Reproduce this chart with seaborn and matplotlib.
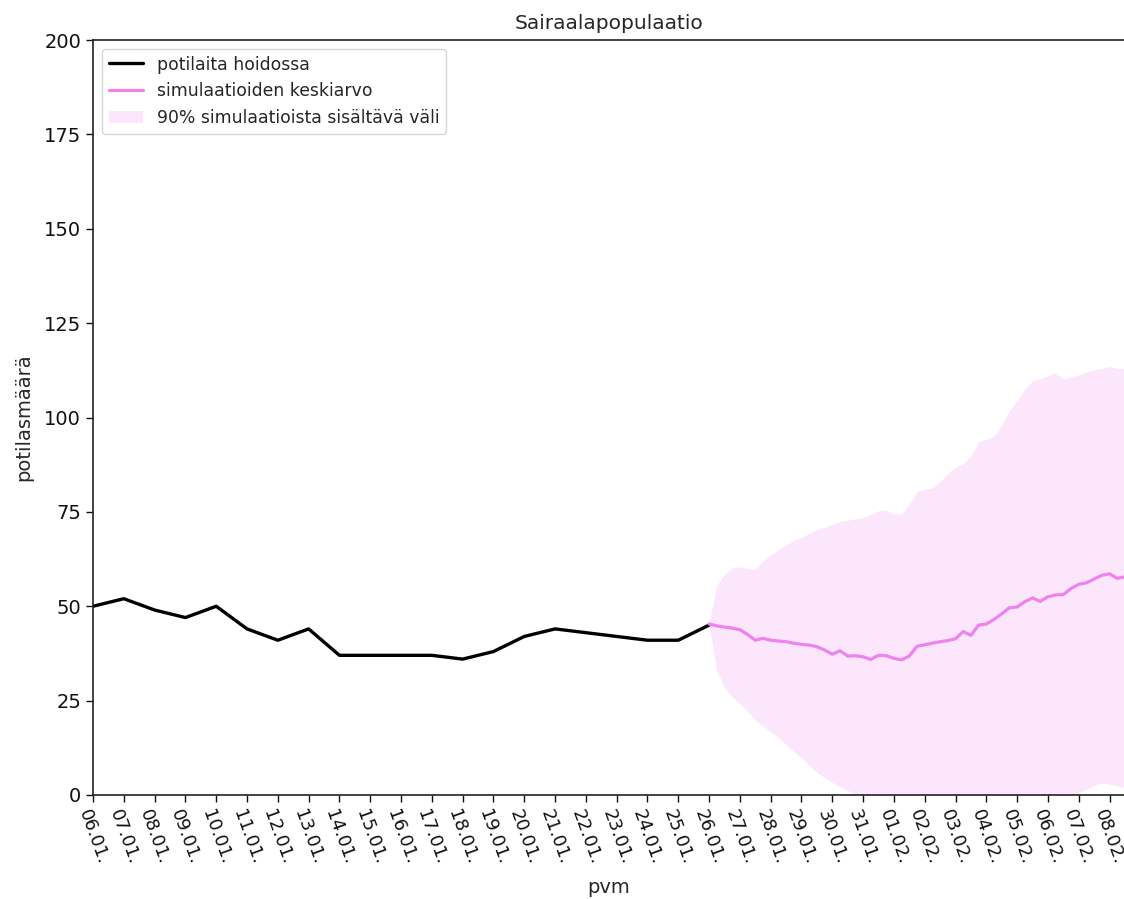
import numpy as np
import pandas as pd
import matplotlib
matplotlib.use("Agg")
import matplotlib.pyplot as plt
import matplotlib.dates as mdates
import seaborn as sns

# ---------------- data ----------------
obs_start = "2021-01-06"
observed = [50, 52, 49, 47, 50, 44, 41, 44, 37, 37, 37, 37, 36, 38, 42, 44,
            43, 42, 41, 41, 45]

sim_start = "2021-01-26"
sim_mean = [45.3, 44.8, 44.5, 44.2, 43.8, 42.5, 41.0, 41.5, 41.0, 40.8, 40.6,
            40.2, 39.9, 39.7, 39.3, 38.4, 37.3, 38.2, 36.8, 36.9, 36.6, 35.9,
            37.0, 36.9, 36.2, 35.8, 36.8, 39.4, 39.8, 40.2, 40.6, 40.9, 41.4,
            43.3, 42.3, 45.0, 45.3, 46.5, 48.0, 49.6, 49.8, 51.2, 52.2, 51.3,
            52.5, 53.0, 53.1, 54.7, 55.8, 56.2, 57.2, 58.2, 58.6, 57.4, 57.8]
sim_upper = [45.5, 55.5, 58.5, 60.2, 60.4, 60.0, 59.8, 62.0, 63.5, 65.0, 66.2,
             67.4, 68.3, 69.3, 70.3, 70.9, 71.6, 72.4, 72.8, 73.1, 73.5, 74.3,
             75.3, 75.6, 74.3, 74.5, 77.0, 80.3, 81.0, 81.4, 83.0, 85.2, 86.8,
             87.7, 89.8, 93.5, 94.2, 95.0, 98.0, 101.8, 104.5, 107.5, 109.7,
             110.2, 111.0, 111.8, 110.1, 110.8, 111.3, 112.0, 112.6, 113.0,
             113.5, 113.0, 113.0]
sim_lower = [45.0, 33.0, 28.5, 26.0, 24.3, 22.2, 19.8, 18.2, 16.8, 15.3, 13.2,
             11.5, 9.8, 7.8, 6.0, 4.6, 3.3, 2.3, 1.2, 0.3, 0, 0, 0, 0, 0, 0, 0,
             0, 0, 0, 0, 0, 0, 0, 0, 0, 0, 0, 0, 0, 0, 0, 0, 0, 0, 0, 0, 0,
             0.5, 1.5, 2.5, 3.2, 2.8, 2.4, 2.0]

labels = ["potilaita hoidossa", "simulaatioiden keskiarvo",
          "90% simulaatioista sisältävä väli"]
title = "Sairaalapopulaatio"
xlabel = "pvm"
ylabel = "potilasmäärä"
yticks = [0, 25, 50, 75, 100, 125, 150, 175, 200]

obs_dates = pd.date_range(obs_start, periods=len(observed), freq="D")
sim_dates = pd.date_range(sim_start, periods=len(sim_mean), freq="6h")
df_obs = pd.DataFrame({"pvm": obs_dates, "n": observed})
df_sim = pd.DataFrame({"pvm": sim_dates, "mean": sim_mean,
                       "lo": sim_lower, "hi": sim_upper})

# ---------------- plot ----------------
sns.set_style("ticks")
plt.rcParams["font.family"] = ["DejaVu Sans"]

fig = plt.figure(figsize=(11.24, 8.99), dpi=100)
ax = fig.add_axes([93 / 1124, 1 - 795 / 899, 1 - 93 / 1124, (795 - 40) / 899])

sns.lineplot(data=df_obs, x="pvm", y="n", color="black", lw=2.4,
             label=labels[0], ax=ax)
sns.lineplot(data=df_sim, x="pvm", y="mean", color="violet", lw=2.3,
             label=labels[1], ax=ax)
ax.fill_between(df_sim["pvm"], df_sim["lo"], df_sim["hi"], color="violet",
                alpha=0.2, lw=0, label=labels[2])

ax.set_ylim(0, 200)
ax.set_yticks(yticks)
x0 = pd.Timestamp(obs_start)
ax.set_xlim(x0, x0 + pd.Timedelta(days=33.47))
ax.xaxis.set_major_locator(mdates.DayLocator(interval=1))
ax.xaxis.set_major_formatter(mdates.DateFormatter("%d.%m."))

ax.tick_params(axis="y", labelsize=14, length=5, width=1, colors="#111111")
ax.tick_params(axis="x", labelsize=13, length=5, width=1, colors="#111111")
for lab in ax.get_xticklabels():
    lab.set_rotation(-70)
    lab.set_ha("center")

ax.set_title(title, fontsize=14.5, pad=8)
ax.set_xlabel(xlabel, fontsize=14, labelpad=8)
ax.set_ylabel(ylabel, fontsize=14, labelpad=8)
for s in ["left", "bottom", "top"]:
    ax.spines[s].set_color("#222222")
    ax.spines[s].set_linewidth(1.2)
ax.spines["right"].set_visible(False)

ax.legend(loc="upper left", fontsize=12.4, frameon=True, framealpha=0.8,
          edgecolor="#cccccc")

fig.savefig("out.png", dpi=100)
